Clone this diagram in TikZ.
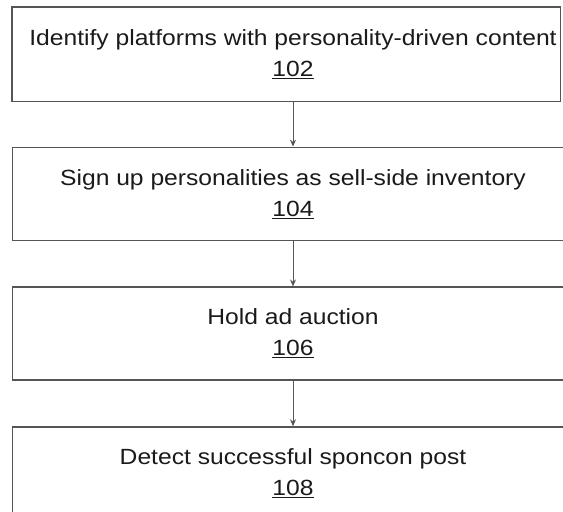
\documentclass[tikz,border=0pt]{standalone}
\usepackage{fontspec}
\setmainfont{Liberation Sans}[FakeStretch=1.12]
\usetikzlibrary{positioning,arrows.meta}
\definecolor{boxgray}{HTML}{555555}
\definecolor{textgray}{HTML}{1A1A1A}
\tikzset{
  stepbox/.style={draw=boxgray, line width=1.3pt, minimum width=560.6pt,
    minimum height=93pt, inner sep=0pt, align=center, text=textgray,
    font=\fontsize{22}{31}\selectfont},
  flow/.style={draw=boxgray, line width=1pt, -{Stealth[length=7pt,width=6pt]}}
}
\begin{document}
\begin{tikzpicture}[node distance=45.5pt]
    % Rahmen des Bildes
    \useasboundingbox (0,0) rectangle (563pt,-512pt);

    % Schritte
    \node[stepbox, draw=none] (s102) at (293pt,-54pt)
      {Identify platforms with personality-driven content\\\underline{102}};
    \node[stepbox, below=of s102] (s104)
      {Sign up personalities as sell-side inventory\\\underline{104}};
    \node[stepbox, below=of s104] (s106)
      {Hold ad auction\\\underline{106}};
    \node[stepbox, below=of s106] (s108)
      {Detect successful sponcon post\\\underline{108}};

    % erster Kasten ist rechts kuerzer
    \draw[boxgray, line width=1.3pt] (s102.north west) rectangle ([xshift=-13.3pt]s102.south east);

    % Pfeile
    \draw[flow] (s102) -- (s104);
    \draw[flow] (s104) -- (s106);
    \draw[flow] (s106) -- (s108);
\end{tikzpicture}
\end{document}
